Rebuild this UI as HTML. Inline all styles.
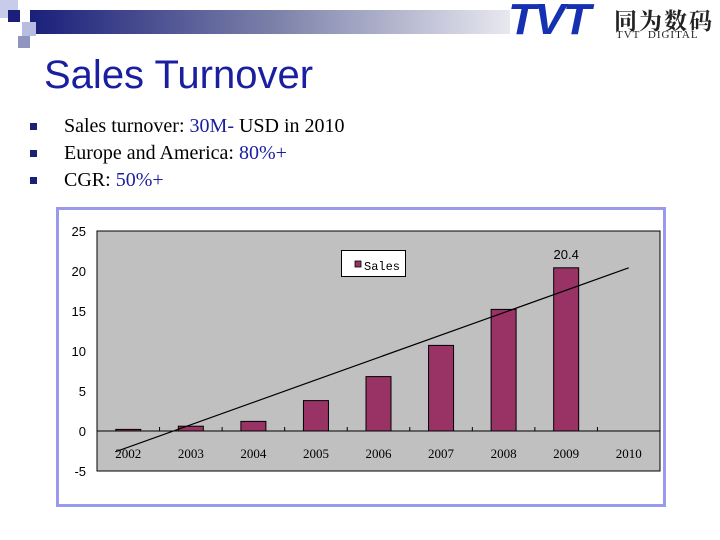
<!DOCTYPE html>
<html><head><meta charset="utf-8"><style>
body{margin:0;width:720px;height:540px;background:#fff;position:relative;overflow:hidden;font-family:"Liberation Sans",sans-serif}
.a{position:absolute}
</style></head><body>
<div class="a" style="left:30px;top:10px;width:480px;height:24px;background:linear-gradient(90deg,#1a1f7a,#7a7fa8 50%,#e8e8f0)"></div>
<div class="a" style="left:0;top:0;width:18px;height:18px;background:#c8cce8"></div>
<div class="a" style="left:8px;top:10px;width:12px;height:12px;background:#1a1f7a"></div>
<div class="a" style="left:22px;top:22px;width:14px;height:14px;background:#b8bce0"></div>
<div class="a" style="left:18px;top:36px;width:12px;height:12px;background:#9095c0"></div>
<div class="a" style="left:508px;top:-5px;font:italic bold 44px 'Liberation Sans',sans-serif;color:#1530b0;letter-spacing:-2px;transform:scaleX(1.05);transform-origin:left">TVT</div>
<div class="a" style="left:614px;top:3px;font:bold 23px 'Noto Serif CJK SC',serif;color:#222;letter-spacing:2px">同为数码</div>
<div class="a" style="left:616px;top:29px;font:11px 'Liberation Serif',serif;color:#222;letter-spacing:1px">TVT&nbsp;&nbsp;DIGITAL</div>
<div class="a" style="left:44px;top:53px;font-size:40px;color:#1a1fa0">Sales Turnover</div>
<div class="a" style="left:30px;top:113px;font:20px 'Liberation Serif',serif;line-height:27px;color:#000">
<div><span style="display:inline-block;width:7px;height:7px;background:#1a1f7a;margin-right:27px;vertical-align:2px"></span>Sales turnover: <span style="color:#1a1fa0">30M-</span> USD in 2010</div>
<div><span style="display:inline-block;width:7px;height:7px;background:#1a1f7a;margin-right:27px;vertical-align:2px"></span>Europe and America: <span style="color:#1a1fa0">80%+</span></div>
<div><span style="display:inline-block;width:7px;height:7px;background:#1a1f7a;margin-right:27px;vertical-align:2px"></span>CGR: <span style="color:#1a1fa0">50%+</span></div>
</div>
<svg class="a" style="left:0;top:0" width="720" height="540" id="chart"></svg>
<script>
const categories=["2002","2003","2004","2005","2006","2007","2008","2009","2010"];
const sales=[0.2,0.6,1.2,3.8,6.8,10.7,15.2,20.4,0];
const yTicks=[25,20,15,10,5,0,-5];
const trendStart=-2.6, trendEnd=20.4;
const NS="http://www.w3.org/2000/svg";
const svg=document.getElementById('chart');
function mk(t,a,p){const e=document.createElementNS(NS,t);for(const k in a)e.setAttribute(k,a[k]);(p||svg).appendChild(e);return e;}
const L=97,R=660,T=231,B=471,yMin=-5,yMax=25;
const y=v=>B-(v-yMin)/(yMax-yMin)*(B-T);
const bw=(R-L)/categories.length;
const x=i=>L+bw*(i+0.5);
let e=mk('rect',{x:57.5,y:208.5,width:607,height:297,fill:'#fff',stroke:'#9999ee','stroke-width':3});

e=mk('rect',{x:L,y:T,width:R-L,height:B-T,fill:'#c0c0c0',stroke:'#000','stroke-width':1});

yTicks.forEach(t=>{const tx=mk('text',{x:86,y:y(t)+5,'text-anchor':'end','font-size':13,'font-family':'Liberation Sans,sans-serif',fill:'#000'});tx.textContent=t;
});
sales.forEach((v,i)=>{if(v<=0)return;const r=mk('rect',{x:x(i)-12.5,y:y(v),width:25,height:y(0)-y(v),fill:'#993366',stroke:'#000','stroke-width':1});
});
e=mk('line',{x1:L,x2:R,y1:y(0),y2:y(0),stroke:'#000','stroke-width':1});

categories.forEach((c,i)=>{if(i>0){const tk=mk('line',{x1:L+bw*i,x2:L+bw*i,y1:y(0)-4,y2:y(0),stroke:'#000'});}
const tx=mk('text',{x:x(i),y:y(0)+27,'text-anchor':'middle','font-size':13,'font-family':'Liberation Serif,serif',fill:'#000'});tx.textContent=c;
});
e=mk('line',{x1:x(0)-13,y1:y(trendStart),x2:x(8),y2:y(trendEnd),stroke:'#000','stroke-width':1.2});

e=mk('text',{x:x(7),y:y(sales[7])-9,'text-anchor':'middle','font-size':13,'font-family':'Liberation Sans,sans-serif'});e.textContent=sales[7];

const g=mk('g',{});
mk('rect',{x:341.5,y:250.5,width:64,height:26,fill:'#fff',stroke:'#000'},g);
mk('rect',{x:355,y:261,width:6,height:6,fill:'#993366',stroke:'#000','stroke-width':0.8},g);
e=mk('text',{x:364,y:270,'font-size':12,'font-family':'Liberation Mono,monospace'},g);e.textContent='Sales';
</script>
</body></html>
